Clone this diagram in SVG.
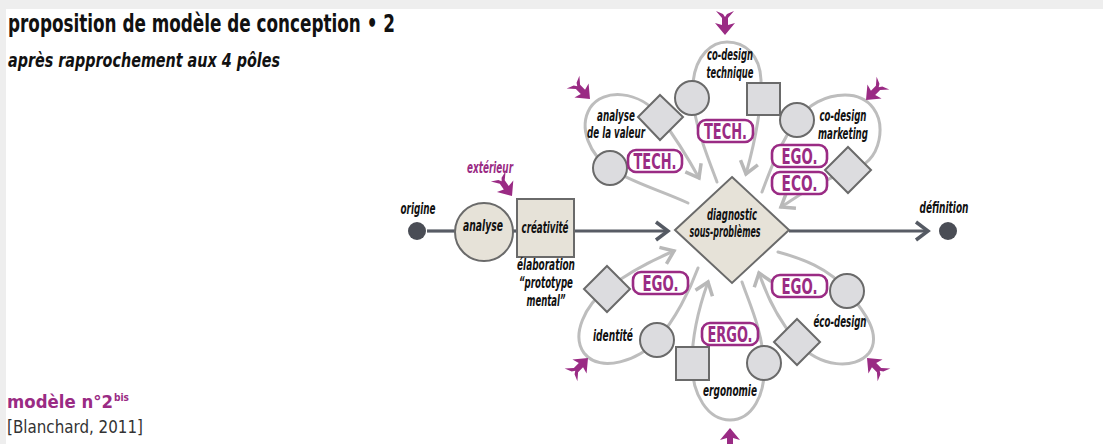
<svg xmlns="http://www.w3.org/2000/svg" xmlns:xlink="http://www.w3.org/1999/xlink" width="1103" height="444" viewBox="0 0 1103 444">
<style>
text{font-family:"Liberation Sans Narrow","DejaVu Sans Condensed","Liberation Sans",sans-serif;font-weight:bold}
.lbl{font-style:italic;font-size:15px;fill:#111;text-anchor:middle}
.mag{fill:#9a2b84}
.loop{fill:none;stroke:#bdbdbd;stroke-width:3;stroke-linecap:round;marker-end:url(#ga)}
.axis{fill:none;stroke:#585c65;stroke-width:3.2}
.gs{fill:#dcdcdf;stroke:#6a6a6a;stroke-width:2}
.bs{fill:#e6e2d8;stroke:#6a6a6a;stroke-width:2}
.badge rect{fill:#fff;stroke:#9a2b84;stroke-width:2.6}
.badge text{font-size:21px;fill:#9a2b84;text-anchor:middle}
</style>
<defs>
<marker id="ga" viewBox="-15 -11 18 22" refX="0" refY="0" markerWidth="18" markerHeight="22" orient="auto" markerUnits="userSpaceOnUse">
<path d="M-12,-9 L0,0 L-12,9" fill="none" stroke="#b8b8b8" stroke-width="3.5"/>
</marker>
<marker id="da" viewBox="-15 -11 18 22" refX="0" refY="0" markerWidth="18" markerHeight="22" orient="auto" markerUnits="userSpaceOnUse">
<path d="M-12,-9 L0,0 L-12,9" fill="none" stroke="#555a63" stroke-width="3.5"/>
</marker>
<path id="ma" d="M0,0 L-10,-12 L-3,-10 L-3,-17 L-9,-24 L-2,-21 L0,-18 L2,-21 L9,-24 L3,-17 L3,-10 L10,-12 Z" fill="#9a2b84"/>
</defs>

<rect x="0" y="0" width="1103" height="444" fill="#eeeeee"/>
<rect x="6" y="9" width="1097" height="435" fill="#ffffff"/>

<g id="title">
<text x="8" y="32" font-size="24" fill="#111" textLength="387" lengthAdjust="spacingAndGlyphs">proposition de modèle de conception • 2</text>
<text x="8" y="67" font-size="19" font-style="italic" fill="#111" textLength="272" lengthAdjust="spacingAndGlyphs">après rapprochement aux 4 pôles</text>
</g>
<g id="ref">
<text x="7" y="408" font-size="18" class="mag" textLength="106" lengthAdjust="spacingAndGlyphs">modèle n°2</text>
<text x="114" y="401" font-size="11" class="mag" textLength="15" lengthAdjust="spacingAndGlyphs">bis</text>
<text x="7" y="433" font-size="18" style="font-weight:normal" fill="#333" textLength="136" lengthAdjust="spacingAndGlyphs">[Blanchard, 2011]</text>
</g>

<g id="connectors">
<line class="axis" x1="427" y1="231" x2="455" y2="231"/>
<line class="axis" x1="513" y1="231" x2="517" y2="231"/>
<line class="axis" x1="575" y1="231" x2="668" y2="231" marker-end="url(#da)"/>
<line class="axis" x1="789" y1="231" x2="928" y2="231" marker-end="url(#da)"/>
<path class="loop" d="M717,182 C705,150 690,115 693,82 C696,55 712,42 727,42 C745,42 760,55 761,80 C762,110 754,145 746,174"/>
<path class="loop" d="M688,203 C660,190 630,182 610,168 C590,155 578,128 590,108 C603,88 640,90 660,117 C675,137 688,158 699,178"/>
<path class="loop" d="M762,192 C772,165 782,140 797,120 C808,105 825,95 845,95 C870,95 884,115 879,140 C875,160 862,168 848,172 C820,180 800,195 781,207"/>
<path class="loop" d="M778,252 C800,258 830,268 847,291 C865,312 882,335 869,353 C855,370 820,368 797,342 C780,322 768,300 759,273"/>
<path class="loop" d="M742,282 C750,305 762,330 764,363 C766,395 752,420 730,420 C708,420 692,395 692,363 C692,335 698,310 708,282"/>
<path class="loop" d="M698,268 C690,290 675,320 657,340 C640,360 600,374 584,353 C571,335 585,305 607,289 C625,275 648,262 674,251"/>
<use href="#ma" xlink:href="#ma" transform="translate(725,35)"/>
<use href="#ma" xlink:href="#ma" transform="translate(590,99) rotate(-45)"/>
<use href="#ma" xlink:href="#ma" transform="translate(866,100) rotate(45)"/>
<use href="#ma" xlink:href="#ma" transform="translate(512,196) rotate(-35)"/>
<use href="#ma" xlink:href="#ma" transform="translate(588,358) rotate(-135)"/>
<use href="#ma" xlink:href="#ma" transform="translate(730,428) rotate(180)"/>
<use href="#ma" xlink:href="#ma" transform="translate(867,358) rotate(135)"/>
</g>

<g id="origine">
<circle cx="417" cy="231" r="9" fill="#4a4d55"/>
<text class="lbl" x="418" y="214" textLength="35" lengthAdjust="spacingAndGlyphs">origine</text>
</g>
<g id="analyse">
<circle class="bs" cx="484" cy="232" r="29"/>
<text class="lbl" x="483" y="231" textLength="40" lengthAdjust="spacingAndGlyphs">analyse</text>
</g>
<g id="creativite">
<rect class="bs" x="517" y="199" width="57" height="58"/>
<text class="lbl" x="545" y="233" textLength="47" lengthAdjust="spacingAndGlyphs">créativité</text>
<text class="lbl" x="546" y="270" textLength="58" lengthAdjust="spacingAndGlyphs">élaboration</text>
<text class="lbl" x="546" y="288" textLength="54" lengthAdjust="spacingAndGlyphs">“prototype</text>
<text class="lbl" x="546" y="306" textLength="39" lengthAdjust="spacingAndGlyphs">mental”</text>
</g>
<g id="exterieur">
<text class="lbl mag" x="490" y="173" textLength="46" lengthAdjust="spacingAndGlyphs">extérieur</text>
</g>
<g id="diagnostic">
<polygon class="bs" points="732,177 789,230 732,283 675,230"/>
<text class="lbl" x="732" y="220" textLength="50" lengthAdjust="spacingAndGlyphs">diagnostic</text>
<text class="lbl" x="725" y="237" textLength="71" lengthAdjust="spacingAndGlyphs">sous-problèmes</text>
</g>
<g id="definition">
<circle cx="948" cy="231" r="9" fill="#4a4d55"/>
<text class="lbl" x="944" y="213" textLength="49" lengthAdjust="spacingAndGlyphs">définition</text>
</g>

<g id="codesign-technique">
<circle class="gs" cx="692" cy="98" r="17"/>
<rect class="gs" x="747" y="83" width="33" height="32"/>
<text class="lbl" x="730" y="60" textLength="46" lengthAdjust="spacingAndGlyphs">co-design</text>
<text class="lbl" x="730" y="78" textLength="47" lengthAdjust="spacingAndGlyphs">technique</text>
<g class="badge"><rect x="698" y="120" width="55" height="22" rx="8"/><text x="725.5" y="139" textLength="43" lengthAdjust="spacingAndGlyphs">TECH.</text></g>
</g>
<g id="analyse-valeur">
<polygon class="gs" points="660,95 683,117 660,140 638,117"/>
<circle class="gs" cx="610" cy="168" r="17"/>
<text class="lbl" x="616" y="121" textLength="38" lengthAdjust="spacingAndGlyphs">analyse</text>
<text class="lbl" x="616" y="138" textLength="58" lengthAdjust="spacingAndGlyphs">de la valeur</text>
<g class="badge"><rect x="628" y="150" width="54" height="22" rx="8"/><text x="655" y="169" textLength="43" lengthAdjust="spacingAndGlyphs">TECH.</text></g>
</g>
<g id="codesign-marketing">
<circle class="gs" cx="797" cy="120" r="17"/>
<polygon class="gs" points="848,147 871,170 848,193 825,170"/>
<text class="lbl" x="843" y="121" textLength="47" lengthAdjust="spacingAndGlyphs">co-design</text>
<text class="lbl" x="843" y="139" textLength="50" lengthAdjust="spacingAndGlyphs">marketing</text>
<g class="badge"><rect x="772" y="145" width="55" height="22" rx="8"/><text x="799.5" y="164" textLength="36" lengthAdjust="spacingAndGlyphs">EGO.</text></g>
<g class="badge"><rect x="772" y="172" width="55" height="22" rx="8"/><text x="799.5" y="191" textLength="36" lengthAdjust="spacingAndGlyphs">ECO.</text></g>
</g>
<g id="eco-design">
<circle class="gs" cx="847" cy="291" r="17"/>
<polygon class="gs" points="797,319 820,342 797,365 774,342"/>
<text class="lbl" x="840" y="327" textLength="53" lengthAdjust="spacingAndGlyphs">éco-design</text>
<g class="badge"><rect x="772" y="275" width="55" height="22" rx="8"/><text x="799.5" y="294" textLength="36" lengthAdjust="spacingAndGlyphs">EGO.</text></g>
</g>
<g id="ergonomie">
<rect class="gs" x="676" y="347" width="33" height="33"/>
<circle class="gs" cx="764" cy="363" r="17"/>
<text class="lbl" x="730" y="396" textLength="54" lengthAdjust="spacingAndGlyphs">ergonomie</text>
<g class="badge"><rect x="702" y="323" width="56" height="22" rx="8"/><text x="730" y="342" textLength="45" lengthAdjust="spacingAndGlyphs">ERGO.</text></g>
</g>
<g id="identite">
<polygon class="gs" points="607,266 630,289 607,312 584,289"/>
<circle class="gs" cx="657" cy="340" r="17"/>
<text class="lbl" x="613" y="341" textLength="40" lengthAdjust="spacingAndGlyphs">identité</text>
<g class="badge"><rect x="633" y="272" width="55" height="22" rx="8"/><text x="660.5" y="291" textLength="36" lengthAdjust="spacingAndGlyphs">EGO.</text></g>
</g>
</svg>
